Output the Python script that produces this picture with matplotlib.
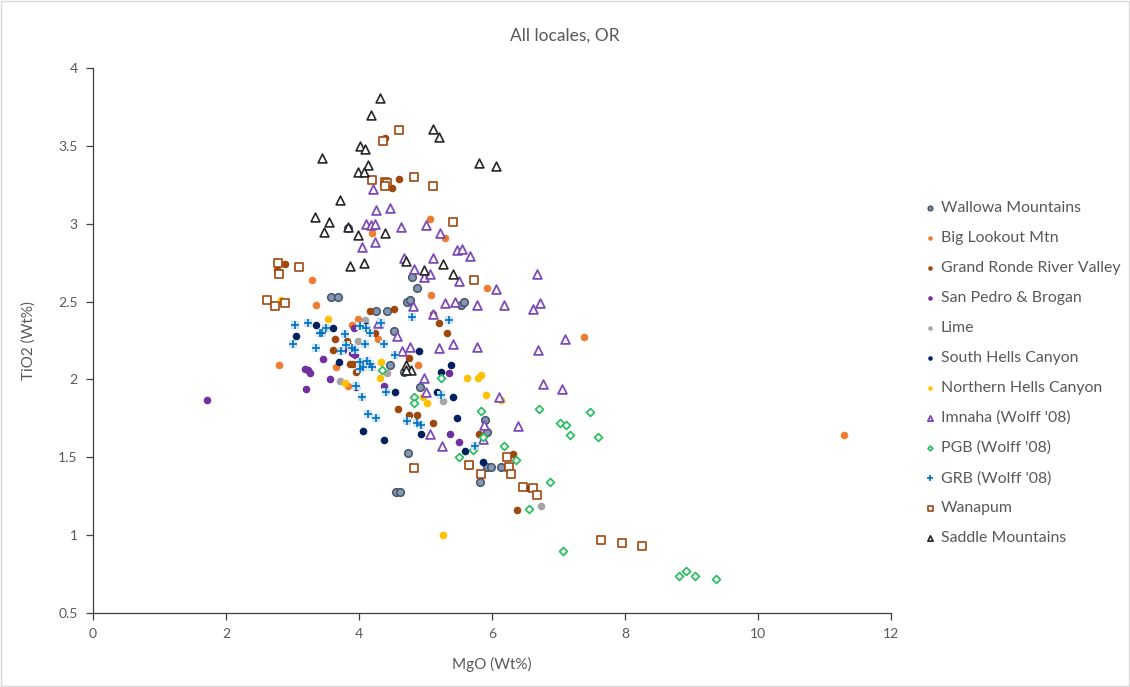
import matplotlib.pyplot as plt
from matplotlib.patches import Rectangle

plt.rcParams['font.family'] = ['Lato', 'DejaVu Sans']

# MgO / TiO2 (Wt%) by locale
wallowa_x = [4.80, 4.87, 3.58, 3.69, 4.72, 4.77, 5.53, 5.58, 4.25, 4.42, 4.52, 4.68, 4.47,
             4.92, 5.90, 5.93, 4.74, 5.92, 5.98, 6.13, 5.66, 5.82, 4.56, 4.62, 3.84]
wallowa_y = [2.66, 2.59, 2.53, 2.53, 2.50, 2.51, 2.48, 2.50, 2.44, 2.44, 2.31, 2.05, 2.09,
             1.95, 1.74, 1.66, 1.53, 1.44, 1.44, 1.44, 1.45, 1.34, 1.28, 1.28, 2.97]

biglookout_x = [4.19, 5.07, 5.29, 3.30, 3.36, 2.80, 5.09, 5.93, 3.98, 3.89, 4.28, 3.66,
                3.84, 4.89, 7.38, 11.29]
biglookout_y = [2.94, 3.03, 2.91, 2.64, 2.48, 2.09, 2.54, 2.59, 2.39, 2.35, 2.26, 2.08,
                1.96, 2.09, 2.27, 1.64]

grandronde_x = [4.39, 4.60, 4.49, 2.88, 2.76, 4.17, 4.52, 5.11, 5.21, 5.33, 3.64, 3.82, 3.84,
                3.61, 4.24, 3.86, 3.91, 3.96, 4.75, 4.59, 4.75, 4.87, 5.11, 5.80, 6.32, 6.37]
grandronde_y = [3.55, 3.29, 3.23, 2.74, 2.70, 2.44, 2.45, 2.42, 2.36, 2.30, 2.26, 2.25, 2.22,
                2.19, 2.30, 2.10, 2.10, 2.05, 2.14, 1.81, 1.77, 1.77, 1.72, 1.65, 1.52, 1.16]

sanpedro_x = [1.71, 3.92, 3.76, 3.89, 3.94, 3.46, 3.19, 3.24, 3.27, 3.57, 3.96, 3.20, 4.38,
              5.35, 5.37, 5.50]
sanpedro_y = [1.87, 2.33, 2.19, 2.17, 2.16, 2.13, 2.07, 2.06, 2.04, 2.00, 1.95, 1.94, 1.96,
              2.04, 1.65, 1.60]

lime_x = [4.09, 3.98, 4.42, 3.71, 5.27, 6.74]
lime_y = [2.38, 2.25, 2.04, 1.99, 1.86, 1.19]

southhells_x = [3.36, 3.61, 3.06, 3.70, 4.11, 4.90, 5.23, 5.39, 5.18, 5.42, 4.54, 5.47,
                4.93, 5.60, 5.87, 4.06, 4.37, 6.56]
southhells_y = [2.35, 2.33, 2.28, 2.11, 2.34, 2.18, 2.05, 2.09, 1.92, 1.89, 1.92, 1.75,
                1.65, 1.54, 1.47, 1.67, 1.61, 1.30]

northhells_x = [2.82, 3.53, 4.33, 4.31, 3.79, 5.62, 5.79, 5.84, 5.91, 6.13, 4.96, 5.03, 5.26]
northhells_y = [2.51, 2.39, 2.11, 2.01, 1.98, 2.01, 2.01, 2.03, 1.90, 1.87, 1.89, 1.85, 1.00]

imnaha_x = [4.21, 4.26, 4.47, 4.11, 4.18, 4.24, 4.63, 5.01, 5.22, 4.24, 4.05, 5.48, 5.55,
            5.67, 4.67, 5.11, 4.83, 4.97, 5.07, 5.50, 6.06, 5.29, 5.45, 5.77, 6.18, 4.81,
            5.11, 4.29, 4.57, 5.21, 5.42, 5.77, 4.64, 4.77, 4.98, 6.11, 5.88, 5.07, 5.25,
            6.67, 6.72, 6.62, 7.10, 6.69, 6.77, 7.05, 6.39, 5.01, 5.87]
imnaha_y = [3.22, 3.09, 3.10, 3.00, 2.99, 3.00, 2.98, 2.99, 2.94, 2.88, 2.85, 2.83, 2.84,
            2.79, 2.78, 2.78, 2.71, 2.66, 2.68, 2.63, 2.58, 2.49, 2.50, 2.48, 2.48, 2.47,
            2.42, 2.36, 2.28, 2.20, 2.23, 2.21, 2.18, 2.21, 2.01, 1.89, 1.71, 1.65, 1.57,
            2.68, 2.49, 2.45, 2.26, 2.19, 1.97, 1.94, 1.70, 1.92, 1.62]

pgb_x = [5.23, 4.82, 4.83, 5.83, 6.70, 7.47, 7.03, 7.11, 7.18, 7.60, 6.18, 5.87, 5.72, 5.50,
         6.36, 6.87, 6.55, 7.07, 8.81, 8.92, 9.06, 9.37, 4.34]
pgb_y = [2.01, 1.89, 1.85, 1.80, 1.81, 1.79, 1.72, 1.71, 1.64, 1.63, 1.57, 1.63, 1.55, 1.50,
         1.48, 1.34, 1.17, 0.90, 0.74, 0.77, 0.74, 0.72, 2.06]

grb_x = [3.04, 3.24, 3.01, 3.35, 3.45, 3.51, 3.79, 3.81, 3.89, 3.94, 3.73, 4.02, 4.11, 4.17,
         4.09, 4.38, 4.02, 4.12, 4.17, 4.06, 4.19, 4.02, 4.33, 4.54, 3.96, 4.04, 4.41, 3.41,
         5.36, 4.80, 4.14, 4.25, 4.72, 4.87, 4.93, 5.24, 5.75]
grb_y = [2.35, 2.36, 2.23, 2.20, 2.30, 2.33, 2.29, 2.22, 2.20, 2.19, 2.18, 2.34, 2.33, 2.30,
         2.23, 2.23, 2.11, 2.12, 2.10, 2.08, 2.08, 2.07, 2.36, 2.16, 1.96, 1.89, 1.92, 2.30,
         2.38, 2.40, 1.78, 1.75, 1.73, 1.72, 1.71, 1.90, 1.57]

wanapum_x = [4.60, 4.36, 4.19, 4.39, 4.42, 4.39, 4.83, 5.11, 5.42, 2.78, 2.80, 3.10, 5.73,
             2.61, 2.73, 2.88, 4.83, 5.65, 5.84, 6.23, 6.26, 6.29, 6.46, 6.61, 6.67, 7.64,
             7.95, 8.25]
wanapum_y = [3.60, 3.53, 3.28, 3.27, 3.26, 3.24, 3.30, 3.24, 3.01, 2.75, 2.68, 2.72, 2.64,
             2.51, 2.47, 2.49, 1.43, 1.45, 1.39, 1.50, 1.44, 1.39, 1.31, 1.30, 1.26, 0.97,
             0.95, 0.93]

saddle_x = [4.31, 4.18, 5.11, 5.21, 4.01, 4.09, 3.45, 5.80, 6.06, 4.13, 3.98, 4.07, 3.71,
            3.34, 3.55, 3.48, 3.84, 3.98, 4.39, 3.87, 4.08, 4.70, 4.98, 5.26, 5.42, 4.71,
            4.78, 4.70]
saddle_y = [3.81, 3.70, 3.61, 3.56, 3.50, 3.48, 3.42, 3.39, 3.37, 3.38, 3.33, 3.33, 3.15,
            3.04, 3.01, 2.95, 2.98, 2.93, 2.94, 2.73, 2.75, 2.76, 2.70, 2.74, 2.68, 2.09,
            2.06, 2.06]

grey = '#595959'

fig = plt.figure(figsize=(11.3, 6.87), dpi=100)
fig.patches.append(Rectangle((0.001, 0.001), 0.998, 0.998, transform=fig.transFigure,
                             fill=False, edgecolor='#d9d9d9', linewidth=1))
ax = fig.add_axes([0.0823, 0.1077, 0.7062, 0.7933])

dot = dict(s=30, linewidths=0)
ax.scatter(wallowa_x, wallowa_y, marker='o', s=30, facecolor='#8497B0',
           edgecolor='#44546A', linewidths=1.1, label='Wallowa Mountains')
ax.scatter(biglookout_x, biglookout_y, marker='o', color='#ED7D31', label='Big Lookout Mtn', **dot)
ax.scatter(grandronde_x, grandronde_y, marker='o', color='#9E480E',
           label='Grand Ronde River Valley', **dot)
ax.scatter(sanpedro_x, sanpedro_y, marker='o', color='#7030A0', label='San Pedro & Brogan', **dot)
ax.scatter(lime_x, lime_y, marker='o', color='#A5A5A5', label='Lime', **dot)
ax.scatter(southhells_x, southhells_y, marker='o', color='#002060',
           label='South Hells Canyon', **dot)
ax.scatter(northhells_x, northhells_y, marker='o', color='#FFC000',
           label='Northern Hells Canyon', **dot)
ax.scatter(imnaha_x, imnaha_y, marker='^', s=40, facecolor='white', edgecolor='#7E4AB8',
           linewidths=1.3, label="Imnaha (Wolff '08)")
ax.scatter(pgb_x, pgb_y, marker='D', s=16, facecolor='white', edgecolor='#2FBF63',
           linewidths=1.3, label="PGB (Wolff '08)")
# plus markers sit on a pale square, as in the spreadsheet style
ax.scatter(grb_x, grb_y, marker='s', s=30, color='#CFE6FA', linewidths=0)
ax.scatter(grb_x, grb_y, marker='+', s=40, color='#0070C0', linewidths=1.2,
           label="GRB (Wolff '08)")
ax.scatter(wanapum_x, wanapum_y, marker='s', s=36, facecolor='white', edgecolor='#9E480E',
           linewidths=1.2, label='Wanapum')
ax.scatter(saddle_x, saddle_y, marker='^', s=40, facecolor='white', edgecolor='#262626',
           linewidths=1.2, label='Saddle Mountains')

ax.set_xlim(0, 12)
ax.set_ylim(0.5, 4)
ax.set_xticks(range(0, 13, 2))
ax.set_yticks([0.5, 1, 1.5, 2, 2.5, 3, 3.5, 4])
ax.set_yticklabels(['0.5', '1', '1.5', '2', '2.5', '3', '3.5', '4'])
for side in ['top', 'right']:
    ax.spines[side].set_visible(False)
for side in ['left', 'bottom']:
    ax.spines[side].set_color('#3f3f3f')
    ax.spines[side].set_linewidth(0.9)
ax.tick_params(direction='out', length=5, width=0.9, color='#3f3f3f',
               labelcolor=grey, labelsize=10, pad=6)

fig.text(0.5, 0.948, 'All locales, OR', color=grey, fontsize=12.5, ha='center', va='center')
ax.set_xlabel('MgO (Wt%)', color=grey, fontsize=11, labelpad=12)
ax.set_ylabel('TiO2 (Wt%)', color=grey, fontsize=11, labelpad=16)

handles, labels = ax.get_legend_handles_labels()
leg = fig.legend(handles, labels, loc='upper left', bbox_to_anchor=(0.806, 0.728),
                 frameon=False, fontsize=11.4, labelspacing=1.0, handlelength=0.6,
                 handletextpad=0.4, markerscale=0.6, labelcolor=grey)

fig.savefig('out.png', dpi=100)
